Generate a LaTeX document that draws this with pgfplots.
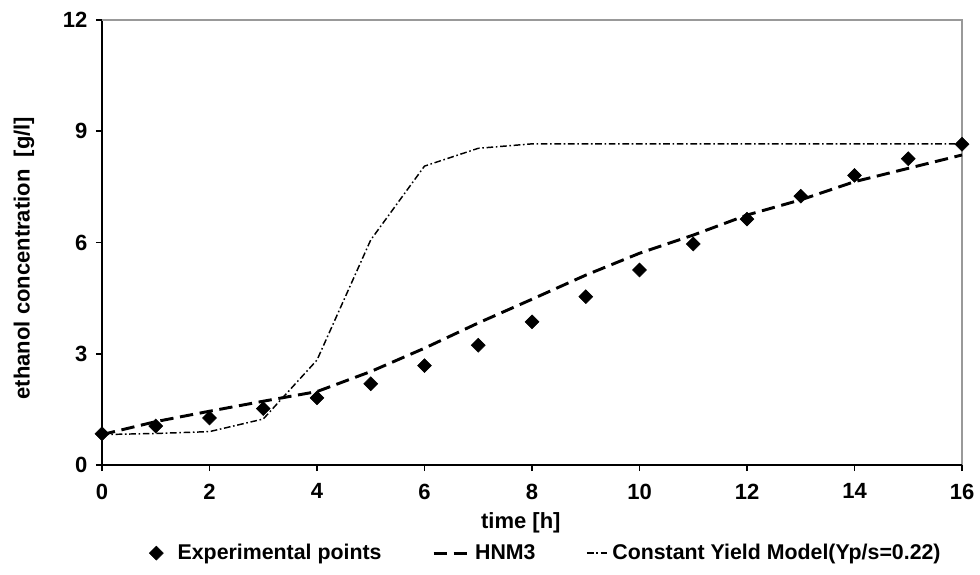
\documentclass[border=0pt]{standalone}
\usepackage{fontspec}
\setmainfont{Liberation Sans}
\usepackage{pgfplots}
\pgfplotsset{compat=1.18}
\pgfplotsset{
  legA/.style={legend image code/.code={\draw[##1] (0pt,0pt) -- (28pt,0pt);}},
  legB/.style={legend image code/.code={\draw[##1] (0pt,0pt) -- (16.5pt,0pt);}},
  legC/.style={legend image code/.code={\path[draw=none,fill=none] (0pt,-1pt) rectangle (20pt,1pt); \draw[##1] plot coordinates {(6pt,0pt)};}},
}
\begin{document}
\begin{tikzpicture}[font=\bfseries]
\begin{axis}[
  name=ax, at={(0,0)}, anchor=south west,
  scale only axis, width=645pt, height=333.75pt,
  xmin=0, xmax=16, ymin=0, ymax=12,
  xtick={0,2,...,16}, ytick={0,3,6,9,12},
  axis lines=left, axis line style={-, line width=1.5pt, black},
  tick align=outside, major tick length=4.5pt,
  tick style={line width=1.2pt, black},
  /pgf/number format/assume math mode=true,
  ticklabel style={font=\fontsize{16.5}{19}\selectfont\bfseries},
  xticklabel style={yshift=-6pt},
  yticklabel style={xshift=-3pt},
  xlabel={time [h]}, ylabel={ethanol concentration\ \ [g/l]},
  label style={font=\fontsize{16.5}{19}\selectfont\bfseries},
  x label style={at={(axis description cs:0.487,-0.131)}, anchor=center},
  y label style={at={(axis description cs:-0.0907,0.465)}, anchor=center, rotate=0},
  clip=false,
  legend columns=3,
  legend style={draw=none, at={(0.516,-0.198)}, anchor=center,
    font=\fontsize{16}{19}\selectfont\bfseries,
    /tikz/every even column/.append style={column sep=36pt}},
]
\draw[gray!80, line width=1.2pt] (rel axis cs:0,1) -- (rel axis cs:1,1) -- (rel axis cs:1,0);
\addplot[black, line width=2.2pt, forget plot] coordinates {(0,0) (0.56,0)};
\addplot[black, line width=2.2pt, forget plot] coordinates {(13.36,0) (16,0)};
\addplot[only marks, mark=square*, mark size=3.7pt, mark options={rotate=45, black}, black, legC] coordinates {
(0,0.84) (1,1.05) (2,1.27) (3,1.52) (4,1.81) (5,2.19) (6,2.68) (7,3.23) (8,3.86)
(9,4.54) (10,5.26) (11,5.96) (12,6.63) (13,7.25) (14,7.81) (15,8.26) (16,8.65)};
\addlegendentry{Experimental points}
\addplot[black, line width=2.2pt, dash pattern=on 10pt off 5pt, legA] coordinates {
(0,0.82) (1,1.17) (2,1.45) (3,1.72) (4,1.98) (5,2.52) (6,3.15) (7,3.83) (8,4.47)
(9,5.12) (10,5.71) (11,6.20) (12,6.74) (13,7.15) (14,7.64) (15,8.0) (16,8.36)};
\addlegendentry{HNM3}
\addplot[black, line width=1.1pt, dash pattern=on 5pt off 2pt on 1.2pt off 2pt, legB] coordinates {
(0,0.82) (1,0.85) (2,0.9) (3,1.24) (4,2.83) (5,6.07) (6,8.06) (7,8.54) (8,8.66)
(9,8.66) (10,8.66) (11,8.66) (12,8.66) (13,8.66) (14,8.66) (15,8.66) (16,8.66)};
\addlegendentry{Constant Yield Model(Yp/s=0.22)}
\end{axis}
\pgfresetboundingbox
\path (-76.5pt,-81.75pt) rectangle (658.5pt,348.75pt);
\end{tikzpicture}
\end{document}
